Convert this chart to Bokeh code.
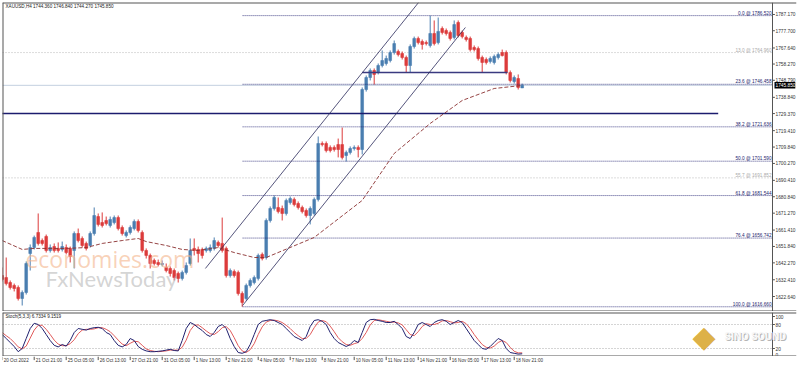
from bokeh.plotting import figure
from bokeh.models import (Range1d, LinearAxis, FixedTicker, PrintfTickFormatter,
                          Label, Span, ColumnDataSource, BoxAnnotation)
from bokeh.core.properties import value
from bokeh.layouts import column
from bokeh.embed import file_html
from bokeh.resources import INLINE

# ---------------- data (XAUUSD H4) ----------------
opens = [1634.9,1633.7,1630.8,1629.1,1627.9,1621.5,1625.0,1647.7,1651.2,1660.0,
         1655.3,1657.7,1649.5,1651.8,1650.7,1650.1,1651.2,1650.7,1649.5,1659.4,
         1656.5,1653.6,1652.4,1659.4,1669.3,1665.8,1667.0,1664.1,1665.8,1668.7,
         1662.9,1658.2,1660.0,1662.3,1666.4,1660.0,1649.5,1646.6,1643.7,1642.5,
         1641.3,1639.6,1639.0,1637.8,1636.1,1633.2,1636.7,1641.9,1650.7,1650.1,
         1650.1,1649.5,1649.5,1650.7,1654.2,1653.6,1650.7,1634.9,1637.2,1636.7,
         1624.4,1621.5,1629.1,1630.8,1633.2,1647.2,1645.4,1667.0,1674.0,1674.6,
         1674.0,1671.1,1677.5,1679.3,1676.9,1674.6,1672.8,1669.9,1671.1,1679.3,
         1711.9,1711.9,1709.6,1709.6,1711.3,1711.3,1704.9,1706.7,1709.0,1709.6,
         1708.4,1743.4,1750.4,1754.5,1753.3,1757.4,1758.6,1760.3,1765.0,1765.6,
         1764.4,1762.1,1757.4,1768.5,1773.2,1771.4,1770.8,1769.1,1776.1,1770.8,
         1779.0,1777.8,1776.7,1773.8,1782.5,1776.7,1773.8,1773.2,1767.9,1767.3,
         1762.1,1760.9,1759.8,1759.2,1762.1,1765.0,1765.0,1753.3,1748.1,1749.8,
         1744.36]
highs = [1639.6,1645.4,1632.0,1630.2,1629.1,1626.2,1643.1,1653.0,1658.2,1671.1,
         1656.5,1658.8,1653.0,1653.6,1654.2,1654.7,1653.0,1651.8,1660.6,1662.3,
         1657.7,1654.7,1660.6,1674.6,1671.1,1671.7,1669.3,1669.3,1669.9,1669.9,
         1664.1,1661.2,1664.1,1667.6,1667.6,1661.2,1650.7,1647.7,1644.8,1644.2,
         1643.7,1641.9,1640.2,1639.0,1637.2,1637.8,1642.5,1656.5,1656.5,1651.8,
         1651.2,1651.8,1653.0,1657.1,1655.3,1668.7,1651.8,1639.0,1638.4,1637.8,
         1625.6,1630.2,1633.2,1634.9,1647.7,1648.3,1668.2,1675.2,1681.6,1680.4,
         1675.7,1679.8,1681.0,1680.4,1678.1,1675.7,1674.0,1675.2,1680.4,1716.0,
         1713.1,1713.1,1710.8,1710.8,1714.8,1721.2,1707.8,1710.2,1710.8,1710.8,
         1744.6,1751.6,1755.7,1755.7,1758.6,1766.2,1763.2,1766.2,1772.0,1766.7,
         1765.6,1763.2,1769.7,1774.3,1774.3,1772.6,1772.0,1786.52,1783.7,1785.4,
         1780.2,1779.0,1777.8,1783.7,1783.7,1777.8,1774.9,1774.3,1769.1,1768.5,
         1763.2,1762.1,1762.7,1763.8,1765.0,1766.7,1766.2,1754.5,1751.6,1752.2,
         1746.84]
lows = [1631.4,1629.1,1626.7,1625.6,1620.3,1617.4,1623.8,1637.8,1650.1,1652.4,
        1652.4,1648.3,1648.3,1648.3,1648.3,1648.9,1647.2,1642.5,1639.0,1654.2,
        1651.2,1649.5,1651.2,1658.2,1663.5,1662.9,1664.1,1662.9,1664.7,1661.2,
        1658.2,1657.1,1658.8,1661.2,1660.0,1648.3,1644.8,1639.0,1640.7,1640.2,
        1640.2,1636.7,1634.3,1632.0,1630.8,1632.0,1635.5,1640.7,1646.6,1642.5,
        1644.8,1648.3,1648.3,1649.5,1651.2,1648.3,1633.7,1633.7,1633.7,1623.2,
        1616.66,1620.3,1627.9,1629.7,1632.0,1643.7,1644.2,1665.8,1672.8,1671.1,
        1667.0,1669.9,1676.3,1675.2,1673.4,1671.1,1668.7,1664.7,1669.9,1678.1,
        1710.2,1706.7,1706.7,1707.2,1703.8,1702.6,1701.4,1705.5,1707.8,1703.8,
        1705.5,1742.2,1748.7,1746.3,1752.2,1756.3,1757.4,1759.2,1763.8,1762.7,
        1760.9,1753.3,1753.3,1767.3,1769.7,1766.7,1769.1,1767.9,1769.1,1769.7,
        1775.5,1774.9,1772.0,1772.6,1773.8,1773.2,1771.4,1765.6,1765.6,1760.3,
        1753.3,1758.0,1758.6,1758.0,1760.9,1762.7,1752.2,1747.5,1746.9,1743.4,
        1744.27]
closes = [1632.6,1630.2,1627.9,1627.3,1621.5,1625.0,1641.9,1651.2,1657.1,1653.6,
          1653.6,1649.5,1651.2,1649.5,1649.5,1651.8,1648.3,1646.0,1659.4,1655.3,
          1652.4,1650.7,1659.4,1669.9,1664.7,1664.1,1665.2,1667.6,1668.7,1662.3,
          1659.4,1660.0,1662.9,1666.4,1661.2,1649.5,1646.6,1641.9,1641.9,1641.3,
          1641.9,1637.8,1636.1,1633.7,1633.2,1636.7,1640.7,1649.5,1649.5,1647.7,
          1646.6,1650.7,1651.2,1655.3,1652.4,1649.5,1634.9,1637.8,1634.9,1624.4,
          1619.2,1629.1,1632.0,1633.7,1646.6,1644.8,1667.0,1674.0,1680.4,1672.2,
          1671.1,1678.7,1679.8,1676.3,1674.6,1672.2,1669.9,1674.0,1679.3,1711.9,
          1711.3,1707.8,1707.8,1708.4,1708.4,1703.8,1706.7,1709.0,1709.6,1708.4,
          1743.4,1750.4,1754.5,1752.2,1757.4,1760.3,1761.5,1765.0,1770.2,1763.8,
          1762.1,1757.4,1768.5,1773.2,1770.8,1769.7,1770.2,1776.1,1770.2,1777.3,
          1776.7,1776.1,1773.2,1781.3,1774.9,1774.3,1772.6,1766.7,1766.7,1761.5,
          1759.2,1759.2,1761.5,1762.7,1763.8,1763.2,1753.3,1748.7,1750.4,1744.6,
          1745.85]

# moving average (bar index, value)
ma_idx = [0, 5, 8, 16, 21, 25, 30, 34, 36, 41, 45, 49, 54, 58, 63, 66, 78, 90, 98, 107, 115, 123, 130]
ma_val = [1655.3, 1650.1, 1650.7, 1650.7, 1651.2, 1653.6, 1655.3, 1656.5, 1654.7, 1652.4, 1650.1,
          1649.5, 1651.2, 1648.3, 1645.4, 1645.4, 1657.1, 1678.7, 1706.1, 1723.6, 1737.0, 1744.0, 1745.8]

# stochastic (5,3,3)
stoch_k = [55,45,35,25,12,20,45,70,83,80,70,55,40,28,24,30,26,40,60,70,
           68,66,70,72,73,70,60,55,40,28,24,30,45,40,25,18,14,12,12,13,
           14,16,18,15,14,40,70,85,80,72,65,55,50,60,75,80,70,45,25,10,
           8,12,30,55,80,88,90,92,90,85,80,70,60,50,45,40,50,75,90,92,
           88,80,60,45,35,30,25,30,40,35,60,85,92,93,90,88,85,85,88,80,
           70,50,45,60,80,85,80,75,85,90,92,88,80,85,90,85,70,55,40,30,
           20,18,25,35,45,40,20,10,8,6,6.7334]
stoch_d = [60,52,45,35,24,19,26,46,66,78,78,68,55,41,31,27,27,32,42,57,
           66,68,68,69,72,72,68,62,52,41,31,27,33,38,37,28,19,15,13,12,
           13,14,16,16,16,23,41,65,78,79,72,64,57,55,62,72,75,65,47,27,
           14,10,17,32,55,74,86,90,91,89,85,78,70,60,52,45,45,55,72,86,
           90,87,76,62,47,37,30,28,32,35,45,60,79,90,92,90,88,86,86,84,
           79,67,55,52,62,75,82,80,80,83,89,90,87,84,85,88,82,70,55,42,
           30,23,21,26,35,40,35,23,13,9,9.1519]

# Fibonacci retracement
fib_pct = ["0.0", "23.6", "38.2", "50.0", "61.8", "76.4", "100.0"]
fib_lvl = [1786.520, 1746.458, 1721.636, 1701.590, 1681.544, 1656.742, 1616.660]
fib_start = 60.1
fib2_pct = ["13.0", "55.7"]
fib2_lvl = [1764.960, 1691.852]

# annotations
channel_up_x = [50.8, 104.1]
channel_up_y = [1639.0, 1794.2]
channel_lo_x = [60.1, 115.8]
channel_lo_y = [1617.4, 1779.6]
neck_x = [90.0, 126.3]
neck_y = [1753.3, 1753.3]
support_x = [-1.0, 179.0]
support_y = [1729.4, 1729.4]
last_price = 1745.85

price_ticks = [1787.170, 1777.700, 1767.640, 1758.270, 1748.790, 1738.840, 1729.370,
               1719.410, 1709.840, 1700.270, 1690.410, 1680.840, 1671.270, 1661.410,
               1651.840, 1642.270, 1632.410, 1622.640, 1613.270]
stoch_ticks = [0, 20, 80, 100]
time_idx = [0, 8, 16, 24, 32, 40, 48, 56, 64, 72, 80, 88, 96, 104, 112, 120, 128]
time_lbl = ["20 Oct 2022", "21 Oct 21:00", "25 Oct 05:00", "26 Oct 13:00", "27 Oct 21:00",
            "31 Oct 05:00", "1 Nov 13:00", "2 Nov 21:00", "4 Nov 05:00", "7 Nov 13:00",
            "8 Nov 21:00", "10 Nov 05:00", "11 Nov 13:00", "14 Nov 21:00", "16 Nov 05:00",
            "17 Nov 13:00", "18 Nov 21:00"]

FONT = "Liberation Sans"
UP = "#4a7eb0"
DN = "#dc3b3b"
NAVY = "#1c1c6e"
BORDER = "#555555"
FSZ = "4.8px"
FW = 794            # frame covers chart + price scale
AXIS_X = 192.575    # bar position of the price-scale line
XR = Range1d(0.075, 198.575)
YR = Range1d(1613.9, 1794.17)
SR = Range1d(0, 110)


def bare(f):
    f.xaxis.visible = False
    f.yaxis.visible = False
    f.xgrid.visible = False
    f.ygrid.visible = False
    f.outline_line_color = None


def price_scale(f, ticks, fmt=None):
    a = LinearAxis(ticker=FixedTicker(ticks=ticks))
    if fmt:
        a.formatter = PrintfTickFormatter(format=fmt)
    a.major_label_text_font_size = FSZ
    a.major_label_text_font = FONT
    a.major_label_text_color = "#333333"
    a.axis_line_color = None
    a.major_tick_line_color = None
    a.major_tick_out = 0
    a.major_tick_in = 0
    a.minor_tick_out = 0
    a.minor_tick_in = 0
    a.major_label_standoff = -21
    f.add_layout(a, "right")
    # scale line and ticks
    f.add_layout(Span(location=AXIS_X, dimension="height", line_color=BORDER, line_width=1))
    f.segment(x0=[AXIS_X] * len(ticks), x1=[AXIS_X + 0.6] * len(ticks), y0=ticks, y1=ticks,
              line_color=BORDER, line_width=1)


# ---------------- main price panel ----------------
p = figure(frame_width=FW, frame_height=309, x_range=XR, y_range=YR,
           output_backend="svg", toolbar_location=None,
           min_border_left=2, min_border_right=2, min_border_top=2, min_border_bottom=0)
bare(p)
p.add_layout(Span(location=YR.end, dimension="width", line_color=BORDER, line_width=2))
p.add_layout(Span(location=YR.start, dimension="width", line_color=BORDER, line_width=2))
p.add_layout(Span(location=XR.start, dimension="height", line_color=BORDER, line_width=2))

idx = list(range(len(opens)))
up = [i for i in idx if closes[i] >= opens[i]]
dn = [i for i in idx if closes[i] < opens[i]]


def src(sel):
    return ColumnDataSource(dict(
        x=[i for i in sel], h=[highs[i] for i in sel], l=[lows[i] for i in sel],
        top=[max(opens[i], closes[i]) for i in sel],
        bot=[min(opens[i], closes[i]) for i in sel]))


# gray fib lines spanning whole chart + bid line
p.segment(x0=[XR.start] * len(fib2_lvl), x1=[AXIS_X] * len(fib2_lvl), y0=fib2_lvl, y1=fib2_lvl,
          line_color="#b8b8b8", line_dash="1 2", line_width=1)
p.segment(x0=[XR.start], x1=[AXIS_X], y0=[last_price], y1=[last_price], line_color="#c3d0e0", line_width=1)

for sel, col in ((up, UP), (dn, DN)):
    cds = src(sel)
    p.segment(x0="x", x1="x", y0="l", y1="h", source=cds, line_color=col, line_width=1)
    p.vbar(x="x", width=0.68, top="top", bottom="bot", source=cds, fill_color=col, line_color=col, line_width=0.6)

# main fib lines
fib_src = ColumnDataSource(dict(x0=[fib_start] * len(fib_lvl), x1=[AXIS_X] * len(fib_lvl), y=fib_lvl))
p.segment(x0="x0", x1="x1", y0="y", y1="y", source=fib_src, line_color=NAVY, line_dash="1 1", line_width=0.8)

p.line(support_x, support_y, line_color=NAVY, line_width=1.3)
p.line(neck_x, neck_y, line_color="#3a3a80", line_width=1.6)
p.line(channel_up_x, channel_up_y, line_color="#2a2a5a", line_width=0.8)
p.line(channel_lo_x, channel_lo_y, line_color="#2a2a5a", line_width=0.8)
p.line(ma_idx, ma_val, line_color="#8a3030", line_dash="4 2", line_width=0.9)

price_scale(p, price_ticks, "%.3f")

for pct, lv in zip(fib_pct, fib_lvl):
    p.add_layout(Label(x=AXIS_X, y=lv, x_offset=-1, text=f"{pct} @ {lv:.3f}", text_align="right",
                       text_baseline="bottom", text_font=FONT, text_font_size="4.7px", text_color=NAVY))
for pct, lv in zip(fib2_pct, fib2_lvl):
    p.add_layout(Label(x=AXIS_X, y=lv, x_offset=-1, text=f"{pct} @ {lv:.3f}", text_align="right",
                       text_baseline="bottom", text_font=FONT, text_font_size="4.7px", text_color="#aaaaaa"))

# last price box on the price scale
p.add_layout(BoxAnnotation(left=AXIS_X + 0.5, right=XR.end - 0.3, top=last_price + 1.9, bottom=last_price - 1.9,
                           fill_color="black", fill_alpha=1.0, line_color=None))
p.add_layout(Label(x=AXIS_X, y=last_price, x_offset=3, text=f"{last_price:.3f}", text_align="left",
                   text_baseline="middle", text_font=FONT, text_font_size=FSZ, text_color="white"))

# title
p.add_layout(Label(x=3, y=308, x_units="screen", y_units="screen",
                   text=f"XAUUSD,H4  {opens[-1]:.3f} {highs[-1]:.3f} {lows[-1]:.3f} {closes[-1]:.3f}",
                   text_baseline="top", text_font=FONT, text_font_size="4.6px", text_color="#222222"))

# watermarks
p.add_layout(Label(x=5.8, y=1644.6, text="economies.com", text_font="Open Sans", text_font_size="23px",
                   text_color="#f4b48a", text_alpha=0.6, text_baseline="alphabetic"))
p.add_layout(Label(x=10.8, y=1633.4, text="FxNewsToday", text_font="Lato", text_font_size="22px",
                   text_color="#b0b0b0", text_alpha=0.55, text_baseline="alphabetic"))

# ---------------- stochastic panel ----------------
s = figure(frame_width=FW, frame_height=44, x_range=XR, y_range=SR,
           output_backend="svg", toolbar_location=None,
           min_border_left=2, min_border_right=2, min_border_top=1, min_border_bottom=0)
bare(s)
s.add_layout(Span(location=SR.end, dimension="width", line_color=BORDER, line_width=2))
s.add_layout(Span(location=SR.start, dimension="width", line_color=BORDER, line_width=2))
s.add_layout(Span(location=XR.start, dimension="height", line_color=BORDER, line_width=2))
s.segment(x0=[XR.start, XR.start], x1=[AXIS_X, AXIS_X], y0=[20, 80], y1=[20, 80],
          line_color="#aaaaaa", line_dash="1 2", line_width=1)
s.line(idx, stoch_d, line_color="#e05a5a", line_width=1)
s.line(idx, stoch_k, line_color="#20206e", line_width=1)
price_scale(s, stoch_ticks)
s.add_layout(Label(x=3, y=43, x_units="screen", y_units="screen",
                   text=f"Stoch(5,3,3) {stoch_k[-1]:.4f} {stoch_d[-1]:.4f}",
                   text_baseline="top", text_font=FONT, text_font_size="4.6px", text_color="#222222"))

# logo
s.add_layout(Label(x=690, y=3, x_units="screen", y_units="screen", text="\u25c6", text_font="DejaVu Sans",
                   text_font_size="30px", text_color="#d9a62e", text_alpha=0.9))
s.add_layout(Label(x=723, y=13, x_units="screen", y_units="screen", text="SINO SOUND",
                   text_font="Roboto", text_font_style="bold", text_font_size="10.5px", text_color="#b5b5b5"))
s.add_layout(Label(x=722, y=14, x_units="screen", y_units="screen", text="SINO SOUND",
                   text_font="Roboto", text_font_style="bold", text_font_size="10.5px", text_color="#f7f7f7"))

# ---------------- time scale ----------------
t = figure(frame_width=FW, frame_height=12, x_range=XR, y_range=Range1d(0, 1),
           output_backend="svg", toolbar_location=None,
           min_border_left=2, min_border_right=2, min_border_top=0, min_border_bottom=0)
bare(t)
t.segment(x0=time_idx, x1=time_idx, y0=[1] * len(time_idx), y1=[0.7] * len(time_idx),
          line_color=BORDER, line_width=1)
t.text(x=time_idx, y=[0.9] * len(time_idx), text=time_lbl, text_align="left", text_baseline="top",
       x_offset=1.5, text_font=value(FONT), text_font_size=value("4.6px"), text_color="#333333")

layout = column(p, s, t, spacing=0)
open("out.html", "w").write(file_html(layout, INLINE))
